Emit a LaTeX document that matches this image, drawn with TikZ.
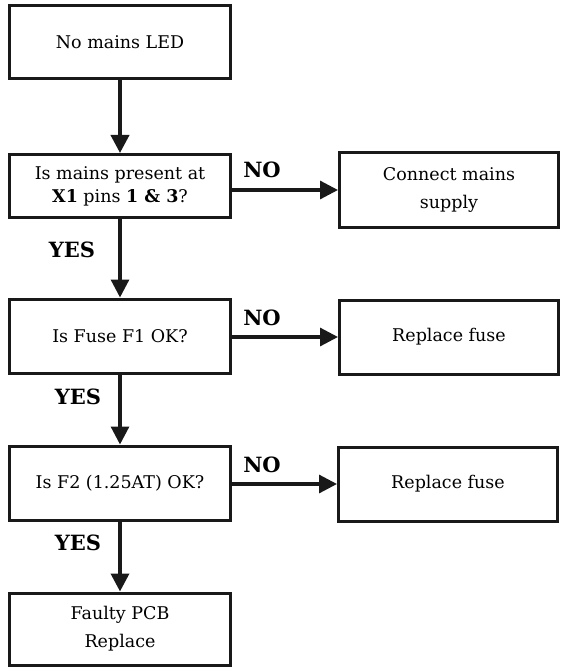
\documentclass[tikz,border=0pt]{standalone}
\usepackage{fontspec}
\setmainfont{DejaVu Serif}
\usetikzlibrary{arrows.meta}
\begin{document}
\begin{tikzpicture}[x=1pt,y=-1pt,
  box/.style={draw=black!90,line width=3pt,minimum width=221pt,minimum height=74pt,inner sep=0pt,align=center,font=\fontsize{17.5}{23}\selectfont},
  rbox/.style={box,minimum width=219pt},
  lbl/.style={font=\fontsize{21}{24}\selectfont\bfseries},
  arr/.style={line width=3.2pt,draw=black!90,-{Triangle[length=18pt,width=18pt]}}]
\useasboundingbox (0,0) rectangle (560,668);
\node[box,line width=3.8pt,minimum height=73pt] (a) at (120,42) {No mains LED};
\node[box,minimum height=63pt] (b) at (120,186) {Is mains present at\\\textbf{X1} pins \textbf{1 \& 3}?};
\node[rbox,font=\fontsize{17.5}{28}\selectfont] (c) at (449,190) {Connect mains\\supply};
\node[box] (d) at (120,336) {Is Fuse F1 OK?};
\node[rbox] (e) at (449,337) {Replace fuse};
\node[box] (f) at (120,483) {Is F2 (1.25AT) OK?};
\node[rbox] (g) at (448,484) {Replace fuse};
\node[box,minimum height=72pt,font=\fontsize{17.5}{28}\selectfont] (h) at (120,629) {Faulty PCB\\Replace};
\draw[arr,line width=3.8pt] (a) -- (b);
\draw[arr] (b.east |- c) -- (c);
\draw[arr] (b) -- (d);
\draw[arr] (d.east |- e) -- (e);
\draw[arr] (d) -- (f);
\draw[arr] (f.east |- g) -- (g);
\draw[arr,line width=3.6pt] (f) -- (h);
\node[lbl] (n1) at (262,170) {NO};
\node[lbl] (n2) at (262,318) {NO};
\node[lbl] (n3) at (262,465) {NO};
\node[lbl] (y1) at (72,250) {YES};
\node[lbl] (y2) at (78,397) {YES};
\node[lbl] (y3) at (78,543) {YES};
\end{tikzpicture}
\end{document}
